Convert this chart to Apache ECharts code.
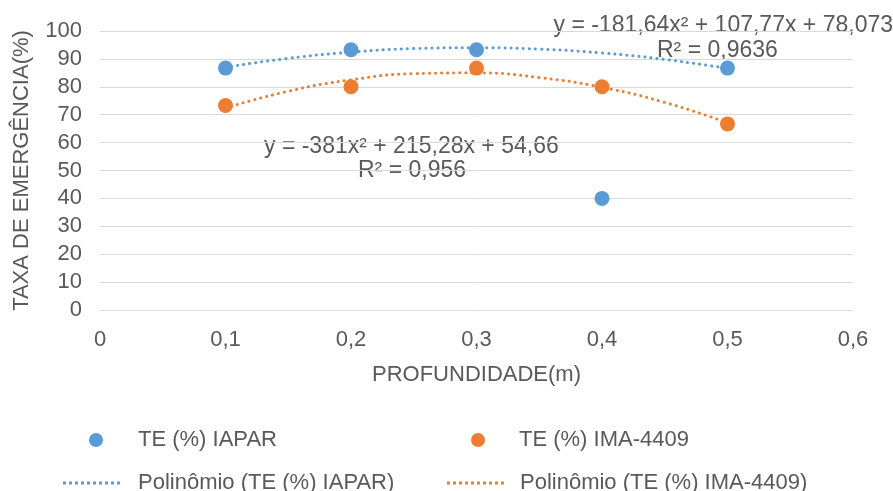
<!DOCTYPE html>
<html><head><meta charset="utf-8">
<script src="https://cdn.jsdelivr.net/npm/echarts@6/dist/echarts.min.js"></script>
<style>html,body{margin:0;padding:0;background:#fff}#c{width:893px;height:491px}</style>
</head><body><div id="c"></div>
<script>
const depths = [0.1, 0.2, 0.3, 0.4, 0.5];
const teIapar = [86.7, 93.3, 93.3, 40, 86.7];
const teIma = [73.3, 80, 86.7, 80, 66.7];
// trendline readings from the picture
const trendX = [0.1, 0.15, 0.2, 0.25, 0.3, 0.35, 0.4, 0.45, 0.5];
const trendIapar = [87.0, 90.2, 92.4, 93.7, 94.0, 93.5, 92.1, 89.8, 86.6];
const trendIma = [72.4, 78.4, 82.5, 84.7, 85.0, 83.3, 79.8, 74.4, 67.1];
const names = ['TE (%) IAPAR', 'TE (%) IMA-4409', 'Polinômio (TE (%) IAPAR)', 'Polinômio (TE (%) IMA-4409)'];
const eqIapar = ['y = -181,64x² + 107,77x + 78,073', 'R² = 0,9636'];
const eqIma = ['y = -381x² + 215,28x + 54,66', 'R² = 0,956'];

const blue = '#5B9BD5', orange = '#ED7D31', txt = '#595959';
const font = 'Liberation Sans';
const pair = (xs, ys) => xs.map((x, i) => [x, ys[i]]);

let dots = '';
for (let i = 0; i < 10; i++) dots += 'M' + (i * 6) + ',0h3v3h-3z';
const dotIcon = 'path://' + dots;

const chart = echarts.init(document.getElementById('c'));
const lt = (pad) => ({color: txt, fontSize: 22, fontFamily: font, padding: [0, 0, 0, pad]});
chart.setOption({
  animation: false,
  grid: {left: 100, right: 40, top: 31, bottom: 181},
  xAxis: {
    type: 'value', min: 0, max: 0.6, interval: 0.1,
    name: 'PROFUNDIDADE(m)', nameLocation: 'middle', nameGap: 54,
    nameTextStyle: {color: txt, fontSize: 22, fontFamily: font},
    axisLine: {show: false}, axisTick: {show: false},
    splitLine: {show: false},
    axisLabel: {color: txt, fontSize: 22, fontFamily: font, margin: 19,
      formatter: v => String(Math.round(v * 10) / 10).replace('.', ',')}
  },
  yAxis: {
    type: 'value', min: 0, max: 100, interval: 10,
    name: 'TAXA DE EMERGÊNCIA(%)', nameLocation: 'middle', nameGap: 67,
    nameTextStyle: {color: txt, fontSize: 22, fontFamily: font},
    axisLine: {show: false}, axisTick: {show: false},
    splitLine: {lineStyle: {color: '#D9D9D9', width: 1}},
    axisLabel: {color: txt, fontSize: 22, fontFamily: font, margin: 18}
  },
  legend: [
    {data: [{name: names[0], icon: 'circle'}], left: 84, top: 424, itemWidth: 14, itemHeight: 14, textStyle: lt(30)},
    {data: [{name: names[1], icon: 'circle'}], left: 466, top: 424, itemWidth: 14, itemHeight: 14, textStyle: lt(29)},
    {data: [{name: names[2], icon: dotIcon}], left: 58, top: 467, itemWidth: 57, itemHeight: 3, textStyle: lt(13)},
    {data: [{name: names[3], icon: dotIcon}], left: 442, top: 467, itemWidth: 57, itemHeight: 3, textStyle: lt(11)}
  ],
  series: [
    {name: names[2], type: 'line', smooth: true, symbol: 'none', data: pair(trendX, trendIapar),
     itemStyle: {color: blue}, lineStyle: {color: blue, width: 3, type: [0.1, 6], cap: 'round'}, z: 1},
    {name: names[3], type: 'line', smooth: true, symbol: 'none', data: pair(trendX, trendIma),
     itemStyle: {color: orange}, lineStyle: {color: orange, width: 3, type: [0.1, 6], cap: 'round'}, z: 1},
    {name: names[0], type: 'scatter', symbol: 'circle', symbolSize: 15, data: pair(depths, teIapar),
     itemStyle: {color: blue, opacity: 1}, z: 3},
    {name: names[1], type: 'scatter', symbol: 'circle', symbolSize: 15, data: pair(depths, teIma),
     itemStyle: {color: orange, opacity: 1}, z: 3}
  ],
  graphic: [
    {type: 'text', right: 0, top: 14, style: {text: eqIapar[0], fill: txt, font: '23px ' + font}},
    {type: 'text', left: 657, top: 39, style: {text: eqIapar[1], fill: txt, font: '23px ' + font}},
    {type: 'text', left: 264, top: 135, style: {text: eqIma[0], fill: txt, font: '23px ' + font}},
    {type: 'text', left: 358, top: 159, style: {text: eqIma[1], fill: txt, font: '23px ' + font}}
  ]
});
</script></body></html>
